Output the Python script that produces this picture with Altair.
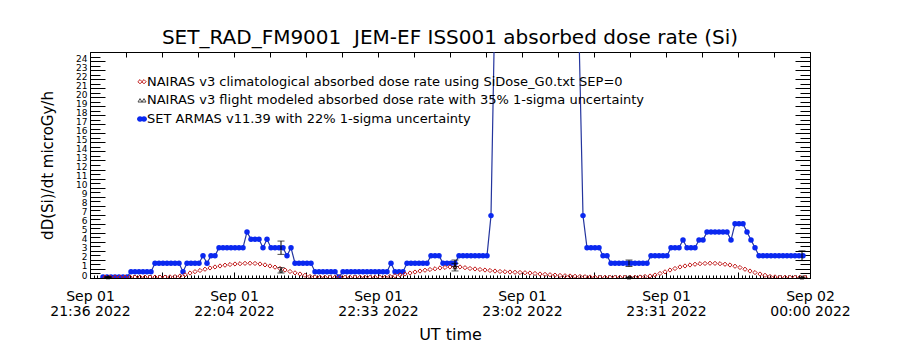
import altair as alt
import pandas as pd

FONT = "DejaVu Sans"
TITLE = "SET_RAD_FM9001\u00a0\u00a0JEM-EF ISS001 absorbed dose rate (Si)"
Y_TITLE = "dD(Si)/dt microGy/h"
X_TITLE = "UT time"
LEGEND = [
    "NAIRAS v3 climatological absorbed dose rate using SiDose_G0.txt SEP=0",
    "NAIRAS v3 flight modeled absorbed dose rate with 35% 1-sigma uncertainty",
    "SET ARMAS v11.39 with 22% 1-sigma uncertainty",
]

T0 = pd.Timestamp("2022-09-01 21:36:00", tz="UTC")
T1 = pd.Timestamp("2022-09-02 00:00:00", tz="UTC")

# SET ARMAS samples: start 21:38:36, one sample every 48 s
armas_start = pd.Timestamp("2022-09-01 21:38:36", tz="UTC")
armas_step_s = 48
armas_dose = (
    [0.1] * 7 + [0.7] * 6 + [1.63] * 7 + [0.7] + [1.63] * 4 + [2.47] + [1.63] + [2.47] * 2
    + [3.35] * 7 + [5.1] + [4.28] * 3 + [3.35] + [4.28] + [3.35] * 4 + [2.47] + [3.35]
    + [1.63] * 5 + [0.7] * 6 + [0.1] + [0.7] * 12 + [1.63] + [0.7] * 3 + [1.63] * 6
    + [2.47] * 3 + [1.63] * 4 + [2.47] * 8 + [6.9]
    + [31, 48, 70, 95, 120, 140, 150, 155, 150, 140, 130, 120, 110, 100, 90, 80, 70, 60, 50, 42, 35, 27]
    + [6.9] + [3.35] * 4 + [2.47] * 2 + [1.63] * 10 + [2.47] * 5 + [3.35] * 3 + [4.2]
    + [3.35] * 3 + [4.2] * 2 + [5.1] * 6 + [4.2] + [6.0] * 3 + [5.1] + [4.2] + [3.35] + [2.47] * 12
)

# NAIRAS climatological: one value per minute from 21:39
nairas_start = pd.Timestamp("2022-09-01 21:39:00", tz="UTC")
nairas_step_s = 60
nairas_clim = [
    0.1, 0.1, 0.1, 0.1, 0.1, 0.1, 0.1, 0.1, 0.1, 0.1, 0.1, 0.1, 0.1, 0.12, 0.15, 0.22, 0.35, 0.55,
    0.7, 0.83, 0.97, 1.11, 1.22, 1.33, 1.42, 1.49, 1.55, 1.58, 1.62, 1.63, 1.61, 1.55, 1.45, 1.33,
    1.2, 1.05, 0.88, 0.72, 0.57, 0.44, 0.3, 0.17, 0.12, 0.08, 0.08, 0.08, 0.08, 0.08, 0.08, 0.08,
    0.08, 0.08, 0.08, 0.08, 0.08, 0.08, 0.08, 0.17, 0.25, 0.33, 0.44, 0.55, 0.66, 0.77, 0.86, 0.94,
    1.02, 1.11, 1.17, 1.22, 1.23, 1.22, 1.14, 1.05, 1.0, 0.94, 0.88, 0.83, 0.77, 0.72, 0.69, 0.66,
    0.63, 0.61, 0.58, 0.55, 0.5, 0.44, 0.4, 0.36, 0.32, 0.28, 0.25, 0.22, 0.19, 0.17, 0.14, 0.11,
    0.08, 0.08, 0.08, 0.08, 0.08, 0.08, 0.08, 0.08, 0.08, 0.11, 0.17, 0.22, 0.33, 0.5, 0.68, 0.88,
    1.05, 1.22, 1.33, 1.44, 1.52, 1.58, 1.61, 1.63, 1.62, 1.58, 1.52, 1.44, 1.3, 1.16, 0.97, 0.77,
    0.6, 0.44, 0.3, 0.17, 0.12, 0.08, 0.08, 0.08, 0.08, 0.08, 0.08,
]

# points with uncertainty bars
err_times = ["2022-09-01T21:39:36Z", "2022-09-01T22:14:12Z", "2022-09-01T22:49:00Z",
             "2022-09-01T23:23:48Z", "2022-09-01T23:58:24Z"]
err_armas = [0.1, 3.35, 1.63, 1.63, 2.47]
err_nairas = [0.1, 0.85, 1.2, 0.08, 0.08]
ARMAS_SIG = 0.22
NAIRAS_SIG = 0.35


def iso(ts):
    return ts.strftime("%Y-%m-%dT%H:%M:%SZ")


def ms(ts):
    return int(ts.timestamp() * 1000)


armas_df = pd.DataFrame({
    "t": [iso(armas_start + pd.Timedelta(seconds=armas_step_s * i)) for i in range(len(armas_dose))],
    "v": armas_dose,
})
nairas_df = pd.DataFrame({
    "t": [iso(nairas_start + pd.Timedelta(seconds=nairas_step_s * i)) for i in range(len(nairas_clim))],
    "v": nairas_clim,
})
err_rows = []
for t, a, n in zip(err_times, err_armas, err_nairas):
    err_rows.append({"t": t, "v": a, "lo": a * (1 - ARMAS_SIG), "hi": a * (1 + ARMAS_SIG), "kind": "armas"})
    err_rows.append({"t": t, "v": n, "lo": n * (1 - NAIRAS_SIG), "hi": n * (1 + NAIRAS_SIG), "kind": "nairas"})
err_df = pd.DataFrame(err_rows)
tri_df = err_df[err_df["kind"] == "nairas"]

W, H = 720, 226
XDOM = [ms(T0), ms(T1)]
xscale = alt.Scale(type="utc", domain=XDOM)
yscale = alt.Scale(domain=[0, 25])

total_min = 144
label_ticks = [ms(T0 + pd.Timedelta(minutes=total_min * k / 5)) for k in range(6)]
top_ticks = [ms(T0 + pd.Timedelta(minutes=7.2 * k)) for k in range(21)]
bot_small = [ms(T0 + pd.Timedelta(minutes=0.72 * k)) for k in range(201)]
bot_med = [ms(T0 + pd.Timedelta(minutes=14.4 * k)) for k in range(11)]
y_labels = list(range(25))
y_int = list(range(26))
y_half = [k + 0.5 for k in range(25)]

main_x = alt.Axis(orient="bottom", values=label_ticks,
                  labelExpr="[utcFormat(datum.value, '%b %d'), utcFormat(datum.value, '%H:%M %Y')]",
                  ticks=False, domain=False, grid=False, labelPadding=11, labelFontSize=14,
                  labelFont=FONT, labelColor="black", labelLineHeight=15, labelFlush=False,
                  labelOverlap=False, labelBaseline="top",
                  titleFont=FONT, titleFontSize=16, titleFontWeight="normal", titleColor="black",
                  titleX=360, titleY=56, titleBaseline="middle")
main_y = alt.Axis(orient="left", values=y_labels, ticks=False, domain=False, grid=False,
                  labelFont=FONT, labelFontSize=9, labelColor="black", labelPadding=3,
                  labelOverlap=False, labelFlush=False, labelOffset=-3,
                  titleFont=FONT, titleFontSize=15, titleFontWeight="normal", titleColor="black",
                  titleX=-43, titleY=113, titleAlign="center", titleBaseline="middle")


def tick_axis(orient, offset, values, size):
    return alt.Axis(orient=orient, offset=offset, values=values, labels=False, domain=False,
                    grid=False, ticks=True, tickSize=size, tickColor="black", tickWidth=1)


ax_top = tick_axis("bottom", -H, top_ticks, 5)
ax_bot_small = tick_axis("top", -H, bot_small, 3)
ax_bot_med = tick_axis("top", -H, bot_med, 6)
ax_left_int = tick_axis("right", -W, y_int, 15)
ax_left_half = tick_axis("right", -W, y_half, 10)
ax_right_int = tick_axis("left", -W, y_int, 15)
ax_right_half = tick_axis("left", -W, y_half, 10)

RED = "#c01818"
BLUE_PT = "#0a28f0"
BLUE_LN = "#24359e"

blue_line = alt.Chart(armas_df).mark_line(color=BLUE_LN, strokeWidth=1.2, clip=True).encode(
    x=alt.X("t:T", scale=xscale, axis=main_x, title=X_TITLE),
    y=alt.Y("v:Q", scale=yscale, axis=main_y, title=Y_TITLE),
)
blue_pts = alt.Chart(armas_df).mark_point(shape="circle", filled=True, color=BLUE_PT, size=30,
                                          opacity=1, clip=True).encode(
    x=alt.X("t:T", scale=xscale, axis=ax_top, title=None),
    y=alt.Y("v:Q", scale=yscale, axis=ax_left_int, title=None),
)
red_pts = alt.Chart(nairas_df).mark_point(shape="diamond", filled=False, color=RED, size=18,
                                          strokeWidth=1, opacity=1, clip=True).encode(
    x=alt.X("t:T", scale=xscale, axis=ax_bot_small, title=None),
    y=alt.Y("v:Q", scale=yscale, axis=ax_left_half, title=None),
)
err_rule = alt.Chart(err_df).mark_rule(color="black", strokeWidth=1).encode(
    x=alt.X("t:T", scale=xscale, axis=ax_bot_med, title=None),
    y=alt.Y("lo:Q", scale=yscale, axis=ax_right_int, title=None),
    y2="hi:Q",
)
cap_lo = alt.Chart(err_df).mark_tick(color="black", size=7, thickness=1, orient="horizontal").encode(
    x=alt.X("t:T", scale=xscale, axis=None),
    y=alt.Y("lo:Q", scale=yscale, axis=ax_right_half, title=None),
)
cap_hi = alt.Chart(err_df).mark_tick(color="black", size=7, thickness=1, orient="horizontal").encode(
    x=alt.X("t:T", scale=xscale, axis=None),
    y=alt.Y("hi:Q", scale=yscale, axis=None),
)
tri = alt.Chart(tri_df).mark_point(shape="triangle-up", filled=False, color="black", size=16,
                                   strokeWidth=1).encode(
    x=alt.X("t:T", scale=xscale, axis=None),
    y=alt.Y("v:Q", scale=yscale, axis=None),
)

one = pd.DataFrame({"k": [0]})
leg_rows = [29.7, 48.3, 67]
legend_layers = []
for txt, yy in zip(LEGEND, leg_rows):
    legend_layers.append(
        alt.Chart(pd.DataFrame({"label": [txt]})).mark_text(
            align="left", baseline="middle", font=FONT, fontSize=13, color="black"
        ).encode(text="label:N", x=alt.value(57), y=alt.value(yy))
    )
for xx in (50, 54):
    legend_layers.append(alt.Chart(one).mark_point(shape="diamond", filled=False, color=RED,
                                                   size=18, strokeWidth=1, opacity=1)
                         .encode(x=alt.value(xx), y=alt.value(leg_rows[0])))
    legend_layers.append(alt.Chart(one).mark_point(shape="triangle-up", filled=False, color="black",
                                                   size=16, strokeWidth=1)
                         .encode(x=alt.value(xx), y=alt.value(leg_rows[1])))
legend_layers.append(alt.Chart(one).mark_rule(color=BLUE_LN, strokeWidth=1.2)
                     .encode(x=alt.value(47), x2=alt.value(57), y=alt.value(leg_rows[2])))
for xx in (50, 54):
    legend_layers.append(alt.Chart(one).mark_point(shape="circle", filled=True, color=BLUE_PT,
                                                   size=30, opacity=1)
                         .encode(x=alt.value(xx), y=alt.value(leg_rows[2])))

chart = alt.layer(
    blue_line, blue_pts, red_pts, err_rule, cap_lo, cap_hi, tri, *legend_layers
).resolve_axis(x="independent", y="independent").properties(
    width=W, height=H,
    padding={"left": 90, "top": 52, "right": 90, "bottom": 72},
    autosize=alt.AutoSizeParams(type="none"),
    title=alt.TitleParams(text=TITLE, font=FONT, fontSize=20, fontWeight="normal", color="black",
                          anchor="middle", offset=4),
    background="white",
).configure_view(stroke="black", strokeWidth=1)

chart.save("out.html", embed_options={"renderer": "svg", "actions": False})
